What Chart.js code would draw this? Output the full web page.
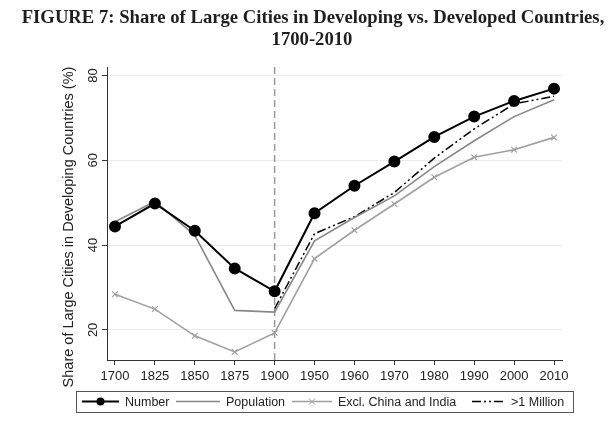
<!DOCTYPE html>
<html><head><meta charset="utf-8">
<script src="https://cdn.jsdelivr.net/npm/chart.js@4"></script>
<style>html,body{margin:0;padding:0;background:#fff}#wrap{width:616px;height:429px}</style>
</head><body><div id="wrap"><canvas id="c" width="616" height="429"></canvas></div>
<script>
const years = ["1700","1825","1850","1875","1900","1950","1960","1970","1980","1990","2000","2010"];
const numberSeries = [44.4,49.8,43.4,34.5,29.1,47.5,54.0,59.7,65.5,70.3,74.0,76.9];
const populationSeries = [45.5,50.3,42.3,24.6,24.2,41.0,46.5,51.6,58.5,64.6,70.3,74.3];
const exclChinaIndia = [28.4,24.9,18.6,14.8,19.3,36.8,43.5,49.7,56.0,60.7,62.5,65.4];
const overMillion = [null,null,null,null,25.0,42.7,46.7,52.4,60.5,67.4,73.3,75.1];
const yTicks = [20,40,60,80];
const titleLines = ["FIGURE 7: Share of Large Cities in Developing vs. Developed Countries,","1700-2010"];
const yTitle = "Share of Large Cities in Developing Countries (%)";
const legendLabels = ["Number","Population","Excl. China and India",">1 Million"];

const toXY = arr => arr.map((v,i)=>({x:i,y:v}));
const SANS = '"Liberation Sans", Arial, sans-serif';
const DASHDOT = [9,3,2,3,2,3];

const overlay = {
  id:'overlay',
  beforeDatasetsDraw(chart){
    const ctx=chart.ctx, xs=chart.scales.x, a=chart.chartArea;
    const x=xs.getPixelForValue(4);
    ctx.save();ctx.strokeStyle='#9a9a9a';ctx.lineWidth=1.5;ctx.setLineDash([7,4]);
    ctx.beginPath();ctx.moveTo(x,a.top);ctx.lineTo(x,a.bottom);ctx.stroke();ctx.restore();
  },
  afterDraw(chart){
    const ctx=chart.ctx, ys=chart.scales.y;
    ctx.save();
    // title
    ctx.fillStyle='#1f1f1f';ctx.textAlign='center';ctx.textBaseline='middle';
    ctx.font='bold 17px "Liberation Serif", serif';
    const w=ctx.measureText(titleLines[0]).width;
    const fs=(17*583/w).toFixed(2);
    ctx.font='bold '+fs+'px "Liberation Serif", serif';
    ctx.fillText(titleLines[0],313,18);
    ctx.fillText(titleLines[1],312,40);
    // y tick labels rotated
    ctx.font='13px '+SANS;ctx.fillStyle='#222';
    yTicks.forEach(v=>{
      const y=ys.getPixelForValue(v);
      ctx.save();ctx.translate(93,y);ctx.rotate(-Math.PI/2);ctx.fillText(String(v),0,0);ctx.restore();
    });
    // y title
    ctx.save();ctx.translate(69,227);ctx.rotate(-Math.PI/2);ctx.font='14.5px '+SANS;ctx.fillText(yTitle,0,0);ctx.restore();
    // legend
    const top=391,bot=412,cy=(top+bot)/2;
    ctx.fillStyle='#fff';ctx.fillRect(76,top,497,bot-top);
    ctx.strokeStyle='#555';ctx.lineWidth=1;ctx.strokeRect(76.5,top+0.5,497,bot-top);
    ctx.font='12.5px '+SANS;ctx.textAlign='left';ctx.fillStyle='#222';
    const items=[
      {x0:82,x1:119,tx:125,color:'#000',w:2,dash:[],mark:'dot'},
      {x0:176,x1:220,tx:226,color:'#888',w:1.5,dash:[],mark:null},
      {x0:292,x1:332,tx:338,color:'#a0a0a0',w:1.5,dash:[],mark:'x'},
      {x0:472,x1:504,tx:511,color:'#000',w:1.5,dash:DASHDOT,mark:null}
    ];
    items.forEach((it,i)=>{
      ctx.save();ctx.strokeStyle=it.color;ctx.lineWidth=it.w;ctx.setLineDash(it.dash);
      ctx.beginPath();ctx.moveTo(it.x0,cy);ctx.lineTo(it.x1,cy);ctx.stroke();ctx.setLineDash([]);
      const mx=(it.x0+it.x1)/2;
      if(it.mark==='dot'){ctx.fillStyle='#000';ctx.beginPath();ctx.arc(mx,cy,4,0,Math.PI*2);ctx.fill();}
      if(it.mark==='x'){ctx.lineWidth=1;ctx.beginPath();ctx.moveTo(mx-3,cy-3);ctx.lineTo(mx+3,cy+3);ctx.moveTo(mx-3,cy+3);ctx.lineTo(mx+3,cy-3);ctx.stroke();}
      ctx.restore();
      ctx.fillStyle='#222';ctx.fillText(legendLabels[i],it.tx,cy+1);
    });
    ctx.restore();
  }
};

new Chart(document.getElementById('c'),{
  type:'line',
  data:{datasets:[
    {label:legendLabels[0],data:toXY(numberSeries),borderColor:'#000',backgroundColor:'#000',borderWidth:2,pointRadius:5,pointHoverRadius:5,pointStyle:'circle'},
    {label:legendLabels[1],data:toXY(populationSeries),borderColor:'#888',borderWidth:1.6,pointRadius:0},
    {label:legendLabels[2],data:toXY(exclChinaIndia),borderColor:'#a0a0a0',backgroundColor:'#a0a0a0',borderWidth:1.6,pointStyle:'crossRot',pointRadius:4,pointBorderWidth:1.2},
    {label:legendLabels[3],data:toXY(overMillion),borderColor:'#000',borderWidth:1.5,borderDash:DASHDOT,pointRadius:0,spanGaps:false}
  ]},
  options:{
    responsive:false,animation:false,
    layout:{padding:{left:0,right:54,top:67,bottom:0}},
    plugins:{legend:{display:false},title:{display:false},tooltip:{enabled:false}},
    scales:{
      x:{type:'linear',min:-0.2,max:11.2,
        afterBuildTicks:s=>{s.ticks=years.map((_,i)=>({value:i}));},
        afterFit:s=>{s.height=69;},
        ticks:{callback:v=>years[v],color:'#222',font:{family:SANS,size:13},maxRotation:0,autoSkip:false,padding:4},
        grid:{drawOnChartArea:false,drawTicks:true,tickLength:5,tickColor:'#333'},
        border:{display:true,color:'#333',width:1}
      },
      y:{min:12.9,max:82,
        afterBuildTicks:s=>{s.ticks=yTicks.map(v=>({value:v}));},
        afterFit:s=>{s.width=107;},
        ticks:{display:false},
        grid:{color:'#ebebeb',lineWidth:1,drawTicks:true,tickLength:5,tickColor:'#333'},
        border:{display:true,color:'#333',width:1}
      }
    }
  },
  plugins:[overlay]
});
</script></body></html>
